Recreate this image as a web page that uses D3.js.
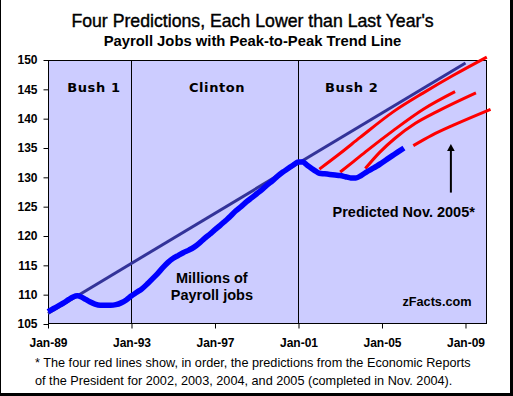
<!DOCTYPE html>
<html><head><meta charset="utf-8">
<script src="https://cdn.jsdelivr.net/npm/d3@7"></script>
<style>
html,body{margin:0;padding:0;background:#fff;}
svg{display:block;}
text{font-family:"Liberation Sans",Arial,sans-serif;}
</style></head>
<body>
<script>
// ---------- data ----------
const title = "Four Predictions, Each Lower than Last Year's";
const subtitle = "Payroll Jobs with Peak-to-Peak Trend Line";
const yTicks = [105,110,115,120,125,130,135,140,145,150];
const xTickYears = [1989,1993,1997,2001,2005,2009];
const xTickLabels = ["Jan-89","Jan-93","Jan-97","Jan-01","Jan-05","Jan-09"];
const termBoundaries = [1993,2001];
const termNames = ["Bush 1","Clinton","Bush 2"];
const termLabelYears = [1991.2,1997.1,2003.55];

// actual payroll jobs (millions)
const jobsYears  = [1989.0,1989.25,1989.5,1989.75,1990.0,1990.2,1990.4,1990.6,1990.8,1991.0,1991.25,1991.5,1991.75,1992.0,1992.25,1992.5,1992.75,1993.0,1993.25,1993.5,1993.75,1994.0,1994.25,1994.5,1994.75,1995.0,1995.25,1995.5,1995.75,1996.0,1996.25,1996.5,1996.75,1997.0,1997.25,1997.5,1997.75,1998.0,1998.25,1998.5,1998.75,1999.0,1999.25,1999.5,1999.75,2000.0,2000.25,2000.5,2000.75,2001.0,2001.2,2001.4,2001.6,2001.8,2002.0,2002.25,2002.5,2002.75,2003.0,2003.25,2003.5,2003.75,2004.0,2004.25,2004.5,2004.75,2005.0,2005.25,2005.5,2005.75,2006.05];
const jobsValues = [107.1,107.6,108.1,108.6,109.2,109.6,109.8,109.6,109.2,108.8,108.4,108.2,108.2,108.2,108.3,108.6,109.1,109.8,110.4,111.0,111.8,112.7,113.6,114.6,115.5,116.2,116.7,117.2,117.6,118.1,118.8,119.6,120.3,121.1,121.8,122.6,123.4,124.3,125.0,125.8,126.5,127.2,127.9,128.7,129.4,130.2,130.9,131.5,132.1,132.6,132.6,132.1,131.6,131.1,130.7,130.6,130.5,130.4,130.3,130.1,129.9,129.9,130.3,130.9,131.4,131.9,132.5,133.1,133.7,134.3,135.0];

// peak-to-peak trend line
const trendYears  = [1989.0,2009.0];
const trendValues = [106.8,149.5];

// four predictions (Economic Reports of the President 2002-2005)
const pred2002Years  = [2002.0,2003.0,2003.95,2005.55,2006.98,2008.42,2010.02];
const pred2002Values = [131.4,134.1,136.8,141.2,144.4,147.4,150.5];
const pred2003Years  = [2003.0,2003.6,2004.3,2005.55,2006.98,2008.5];
const pred2003Values = [130.9,132.6,134.6,138.0,141.6,144.6];
const pred2004Years  = [2004.2,2004.9,2005.64,2006.6,2007.63,2009.5];
const pred2004Values = [131.5,134.3,136.7,139.2,141.2,144.4];
const pred2005Years  = [2006.5,2007.4,2008.42,2010.2];
const pred2005Values = [135.4,137.2,138.9,141.6];

const footnote = ["* The four red lines show, in order, the predictions from the Economic Reports",
                  "of the President for 2002, 2003, 2004, and 2005 (completed in Nov. 2004)."];

// ---------- layout ----------
const W = 513, H = 396;
const plot = {left:48, right:487, top:60, bottom:324};

const svg = d3.select("body").append("svg").attr("width",W).attr("height",H);
svg.append("rect").attr("width",W).attr("height",H).attr("fill","#fff");

const x = d3.scaleLinear().domain([1989.0, 2010.03]).range([plot.left, plot.right]);
const y = d3.scaleLinear().domain([105,150]).range([plot.bottom, plot.top]);

// plot background
svg.append("rect").attr("x",plot.left).attr("y",plot.top)
  .attr("width",plot.right-plot.left).attr("height",plot.bottom-plot.top)
  .attr("fill","#CCCCFF");

// term boundaries
svg.selectAll("line.term").data(termBoundaries).enter().append("line")
  .attr("x1",d=>Math.round(x(d))+0.5).attr("x2",d=>Math.round(x(d))+0.5)
  .attr("y1",plot.top).attr("y2",plot.bottom)
  .attr("stroke","#000").attr("stroke-width",1);

// plot border
svg.append("rect").attr("x",plot.left+0.5).attr("y",plot.top+0.5)
  .attr("width",plot.right-plot.left-1).attr("height",plot.bottom-plot.top-1)
  .attr("fill","none").attr("stroke","#000").attr("stroke-width",1);

// axes
const yAxis = d3.axisLeft(y).tickValues(yTicks).tickSize(5).tickPadding(6);
const gy = svg.append("g").attr("transform",`translate(${plot.left+0.5},0)`).call(yAxis);
gy.select(".domain").remove();
gy.selectAll("text").attr("font-family","Liberation Sans, Arial, sans-serif")
  .attr("font-weight","bold").attr("font-size",12).attr("fill","#000");

const xAxis = d3.axisBottom(x).tickValues(xTickYears).tickSize(5).tickPadding(10)
  .tickFormat((d,i)=>xTickLabels[i]);
const gx = svg.append("g").attr("transform",`translate(0,${plot.bottom-0.5})`).call(xAxis);
gx.select(".domain").remove();
gx.selectAll("text").attr("font-family","Liberation Sans, Arial, sans-serif")
  .attr("font-weight","bold").attr("font-size",12).attr("fill","#000");

// term labels
svg.selectAll("text.term").data(termNames).enter().append("text")
  .attr("x",(d,i)=>x(termLabelYears[i])).attr("y",y(144.6))
  .attr("text-anchor","middle").attr("font-weight","bold").attr("font-size",13)
  .attr("letter-spacing",0.6)
  .style("font-family","'DejaVu Sans',Verdana,sans-serif").attr("fill","#000")
  .text(d=>d);

const line = d3.line().x(d=>x(d[0])).y(d=>y(d[1])).curve(d3.curveMonotoneX);
const zipd = (a,b)=>a.map((v,i)=>[v,b[i]]);

// trend line
svg.append("path").datum(zipd(trendYears,trendValues)).attr("d",line)
  .attr("fill","none").attr("stroke","#333399").attr("stroke-width",3);

// predictions
[[pred2002Years,pred2002Values],[pred2003Years,pred2003Values],
 [pred2004Years,pred2004Values],[pred2005Years,pred2005Values]].forEach(p=>{
  svg.append("path").datum(zipd(p[0],p[1])).attr("d",line)
    .attr("fill","none").attr("stroke","#FF0000").attr("stroke-width",3);
});

// actual jobs
svg.append("path").datum(zipd(jobsYears,jobsValues)).attr("d",line)
  .attr("fill","none").attr("stroke","#0000FF").attr("stroke-width",5.5)
  .attr("stroke-linejoin","round");

// annotation texts
svg.append("text").attr("x",x(1996.85)).attr("y",y(111.94)).attr("text-anchor","middle")
  .attr("font-weight","bold").attr("font-size",14.5).text("Millions of");
svg.append("text").attr("x",x(1996.85)).attr("y",y(109.1)).attr("text-anchor","middle")
  .attr("font-weight","bold").attr("font-size",14.5).text("Payroll jobs");
svg.append("text").attr("x",x(2009.45)).attr("y",y(123.3)).attr("text-anchor","end")
  .attr("font-weight","bold").attr("font-size",14.5).text("Predicted Nov. 2005*");
svg.append("text").attr("x",x(2009.29)).attr("y",y(108.07)).attr("text-anchor","end")
  .attr("font-weight","bold").attr("font-size",12.7).text("zFacts.com");

// arrow
const arrowYear = 2008.3, arrowFrom = 127.4, arrowTo = 135.7;
svg.append("line").attr("x1",x(arrowYear)).attr("x2",x(arrowYear))
  .attr("y1",y(arrowFrom)).attr("y2",y(arrowTo)+5)
  .attr("stroke","#000").attr("stroke-width",2);
svg.append("path")
  .attr("d",`M${x(arrowYear)},${y(arrowTo)} L${x(arrowYear)+3.8},${y(arrowTo)+7} L${x(arrowYear)-3.8},${y(arrowTo)+7} Z`)
  .attr("fill","#000");

// titles
svg.append("text").attr("x",W/2-4).attr("y",26.7).attr("text-anchor","middle")
  .attr("font-size",17.7).attr("fill","#000").attr("stroke","#000").attr("stroke-width",0.4)
  .text(title);
svg.append("text").attr("x",W/2-4).attr("y",45.7).attr("text-anchor","middle")
  .attr("font-size",14.8).attr("font-weight","bold").attr("fill","#000").text(subtitle);

// footnote
svg.selectAll("text.foot").data(footnote).enter().append("text")
  .attr("x",35).attr("y",(d,i)=>367+i*18).attr("font-size",12.7).attr("fill","#000")
  .text(d=>d);

// outer frame
svg.append("rect").attr("x",0).attr("y",0).attr("width",1).attr("height",H).attr("fill","#000");
svg.append("rect").attr("x",510).attr("y",0).attr("width",3).attr("height",H).attr("fill","#000");
svg.append("rect").attr("x",0).attr("y",393).attr("width",W).attr("height",3).attr("fill","#000");
</script>
</body></html>
